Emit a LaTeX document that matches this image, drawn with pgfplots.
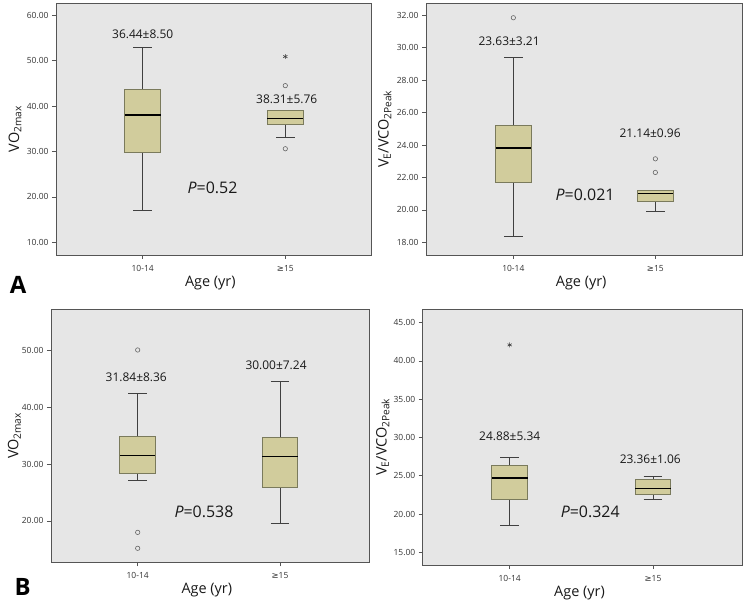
\documentclass[border=0pt]{standalone}
\usepackage{pgfplots}
\pgfplotsset{compat=1.18}
\usepgfplotslibrary{statistics}
\usepackage{fontspec}
\setmainfont{Open Sans}
\newfontfamily\dejavu{DejaVu Sans}

\definecolor{bgc}{HTML}{E6E6E6}
\definecolor{framec}{HTML}{555555}
\definecolor{boxfill}{HTML}{D1CC9C}
\definecolor{boxedge}{HTML}{7A7A5C}
\definecolor{tickc}{HTML}{333333}

\tikzset{
  ann/.style={font=\fontsize{12}{14}\selectfont, text=black!90},
  pv/.style={font=\fontsize{16}{18}\selectfont, text=black!90},
}

\pgfplotsset{
  panel/.style={
    scale only axis, clip=false,
    axis background/.style={fill=bgc},
    axis line style={draw=framec, line width=0.8bp},
    xtick={0,1},
    xticklabels={10-14,{{\dejavu ≥}15}},
    xtick pos=bottom, ytick pos=left,
    tick align=outside,
    major tick length=4bp,
    tick style={draw=framec, line width=0.7bp},
    ticklabel style={font=\fontsize{8.5}{10}\selectfont, text=tickc},
    xticklabel style={yshift=-3bp},
    yticklabel style={/pgf/number format/.cd, fixed, fixed zerofill, precision=2, assume math mode=true},
    label style={font=\fontsize{14.5}{16}\selectfont, text=black!90},
    xlabel={Age (yr)},
    xlabel style={at={(axis description cs:0.49,0)}, anchor=center, yshift=-28bp},
    boxplot/draw direction=y,
  },
  bx/.style={solid, draw=boxedge, fill=boxfill, line width=0.9bp, mark=none,
    boxplot/box extend=0.25,
    boxplot/whisker extend=0.13,
    boxplot/every whisker/.style={draw=black!75, line width=0.9bp},
    boxplot/every median/.style={draw=black, line width=1.6bp}},
  outc/.style={only marks, mark=o, mark size=2.2bp, mark options={draw=black!60, line width=0.6bp}},
  outs/.style={only marks, mark=asterisk, mark size=2.4bp, mark options={draw=black!75, line width=0.6bp}},
}

\begin{document}
\begin{tikzpicture}
\useasboundingbox (0,0) rectangle (745bp,600bp);

% ---- A, left: VO2max
\begin{axis}[panel, at={(56bp,345bp)}, anchor=south west,
  width=315bp, height=252bp,
  xmin=-0.608, xmax=1.601, ymin=7.2, ymax=62.7,
  ytick={10,20,...,60},
  ylabel={VO\textsubscript{2max}},
  ylabel style={at={(axis description cs:-0.13,0.5)}, anchor=center}]
\addplot+[boxplot prepared={draw position=0, lower whisker=17.1,
  lower quartile=29.7, median=38.0, upper quartile=43.55, upper whisker=52.87}, bx] coordinates {};
\addplot+[boxplot prepared={draw position=1, lower whisker=33.0,
  lower quartile=36.05, median=37.3, upper quartile=39.0, upper whisker=39.0}, bx] coordinates {};
\addplot[outc] coordinates {(1,44.5) (1,30.6)};
\addplot[outs] coordinates {(1,50.9)};
\node[ann] at (axis cs:0,55.8) {36.44±8.50};
\node[ann] at (axis cs:1.01,41.56) {38.31±5.76};
\node[pv] at (axis cs:0.49,21.96) {\textit{P}=0.52};
\end{axis}

% ---- A, right: VE/VCO2peak
\begin{axis}[panel, at={(426bp,345bp)}, anchor=south west,
  width=316.7bp, height=252bp,
  xmin=-0.615, xmax=1.615, ymin=17.22, ymax=32.76,
  ytick={18,20,...,32},
  ylabel={V\textsubscript{E}/VCO\textsubscript{2Peak}},
  ylabel style={at={(axis description cs:-0.13,0.5)}, anchor=center}]
\addplot+[boxplot prepared={draw position=0, lower whisker=18.34,
  lower quartile=21.72, median=23.83, upper quartile=25.21, upper whisker=29.41}, bx] coordinates {};
\addplot+[boxplot prepared={draw position=1, lower whisker=19.93,
  lower quartile=20.53, median=21.0, upper quartile=21.2, upper whisker=21.2}, bx] coordinates {};
\addplot[outc] coordinates {(0,31.85) (1,23.15) (1,22.31)};
\node[ann] at (axis cs:-0.03,30.41) {23.63±3.21};
\node[ann] at (axis cs:0.963,24.72) {21.14±0.96};
\node[pv] at (axis cs:0.505,20.91) {\textit{P}=0.021};
\end{axis}

% ---- B, left: VO2max
\begin{axis}[panel, at={(51bp,37.7bp)}, anchor=south west,
  width=318bp, height=253bp,
  xmin=-0.609, xmax=1.625, ymin=12.74, ymax=57.2,
  ytick={20,30,40,50},
  ylabel={VO\textsubscript{2max}},
  ylabel style={at={(axis description cs:-0.115,0.5)}, anchor=center}]
\addplot+[boxplot prepared={draw position=0, lower whisker=27.15,
  lower quartile=28.4, median=31.5, upper quartile=34.83, upper whisker=42.33}, bx] coordinates {};
\addplot+[boxplot prepared={draw position=1, lower whisker=19.55,
  lower quartile=25.92, median=31.31, upper quartile=34.65, upper whisker=44.44}, bx] coordinates {};
\addplot[outc] coordinates {(0,50.05) (0,18.0) (0,15.2)};
\node[ann] at (axis cs:-0.01,45.26) {31.84±8.36};
\node[ann] at (axis cs:0.972,47.42) {30.00±7.24};
\node[pv] at (axis cs:0.466,21.64) {\textit{P}=0.538};
\end{axis}

% ---- B, right: VE/VCO2peak
\begin{axis}[panel, at={(422.7bp,35bp)}, anchor=south west,
  width=320bp, height=255.7bp,
  xmin=-0.607, xmax=1.626, ymin=13.34, ymax=46.74,
  ytick={15,20,...,45},
  ylabel={V\textsubscript{E}/VCO\textsubscript{2Peak}},
  ylabel style={at={(axis description cs:-0.125,0.5)}, anchor=center}]
\addplot+[boxplot prepared={draw position=0, lower whisker=18.45,
  lower quartile=21.93, median=24.72, upper quartile=26.37, upper whisker=27.37}, bx] coordinates {};
\addplot+[boxplot prepared={draw position=1, lower whisker=21.93,
  lower quartile=22.5, median=23.32, upper quartile=24.45, upper whisker=24.9}, bx] coordinates {};
\addplot[outs] coordinates {(0,42.09)};
\node[ann] at (axis cs:0,30.2) {24.88±5.34};
\node[ann] at (axis cs:0.981,27.2) {23.36±1.06};
\node[pv] at (axis cs:0.562,20.23) {\textit{P}=0.324};
\end{axis}

\node[inner sep=0pt, font=\bfseries\fontsize{24}{26}\selectfont] at (18bp,315bp) {A};
\node[inner sep=0pt, font=\bfseries\fontsize{24}{26}\selectfont] at (22.7bp,13bp) {B};
\end{tikzpicture}
\end{document}
